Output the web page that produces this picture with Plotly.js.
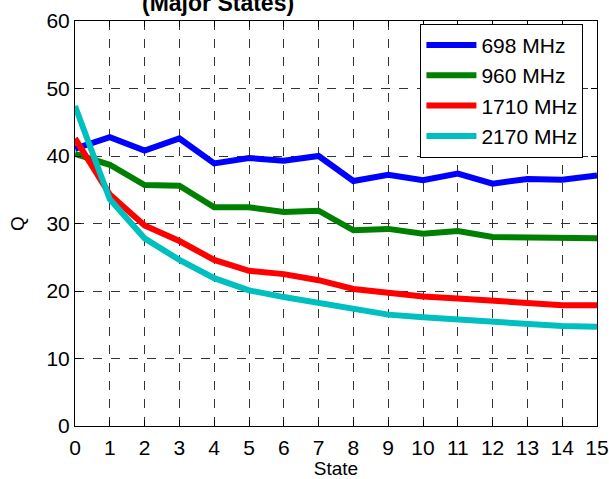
<!DOCTYPE html>
<html>
<head>
<meta charset="utf-8">
<script src="https://cdn.plot.ly/plotly-3.0.1.min.js"></script>
<style>html,body{margin:0;padding:0;background:#fff;}#chart{width:609px;height:479px;}</style>
</head>
<body>
<div id="chart"></div>
<script>
const states = [0,1,2,3,4,5,6,7,8,9,10,11,12,13,14,15];
const q698  = [41.1,42.8,40.8,42.6,38.9,39.7,39.3,40.0,36.3,37.2,36.4,37.4,35.9,36.6,36.5,37.1];
const q960  = [40.3,38.7,35.7,35.6,32.4,32.4,31.7,31.9,29.0,29.2,28.5,28.9,28.0,28.0,27.8,27.8];
const q1710 = [42.6,34.3,29.7,27.4,24.6,23.0,22.5,21.6,20.3,19.7,19.2,18.9,18.6,18.2,17.9,17.9];
const q2170 = [47.4,33.6,27.8,24.6,21.9,20.1,19.1,18.3,17.4,16.5,16.1,15.8,15.5,15.0,14.8,14.7];
const seriesNames = ['698 MHz','960 MHz','1710 MHz','2170 MHz'];
const titleText = '(Major States)';
const xLabel = 'State';
const yLabel = 'Q';

const colors = ['#0000ff','#008000','#ff0000','#00bfbf'];
const data = [q698,q960,q1710,q2170].map((ys,i)=>({
  x: states, y: ys, type:'scatter', mode:'lines', name: seriesNames[i],
  line:{color:colors[i], width:6}
}));

const fontFam = 'Liberation Sans, Arial, sans-serif';
const axisCommon = {
  showline:true, linecolor:'#000', linewidth:1, mirror:'ticks',
  ticks:'inside', ticklen:6, tickcolor:'#000',
  showgrid:true, gridcolor:'#333', gridwidth:1, griddash:'dash',
  zeroline:false, tickfont:{family:fontFam, size:21, color:'#000'}
};
const layout = {
  width:609, height:479,
  margin:{l:75, r:12, t:21, b:53},
  paper_bgcolor:'#fff', plot_bgcolor:'#fff',
  showlegend:true,
  xaxis: Object.assign({}, axisCommon, {range:[0,15], dtick:1, tick0:0, ticklabelstandoff:3,
    title:{text:xLabel, font:{family:fontFam, size:19, color:'#000'}, standoff:5}}),
  yaxis: Object.assign({}, axisCommon, {range:[0,60], dtick:10, tick0:0,
    title:{text:yLabel, font:{family:fontFam, size:19, color:'#000'}, standoff:16}}),
  legend:{x:0.974, y:0.993, xanchor:'right', yanchor:'top',
    bgcolor:'#fff', bordercolor:'#000', borderwidth:1, itemwidth:50,
    font:{family:fontFam, size:21, color:'#000'}, tracegroupgap:0},
  annotations:[{text:'<b>'+titleText+'</b>', xref:'paper', yref:'paper',
    x:0.274, y:1.045, xanchor:'center', yanchor:'middle', showarrow:false,
    font:{family:fontFam, size:23, color:'#000'}}]
};
Plotly.newPlot('chart', data, layout, {displayModeBar:false, staticPlot:true});
</script>
</body>
</html>
